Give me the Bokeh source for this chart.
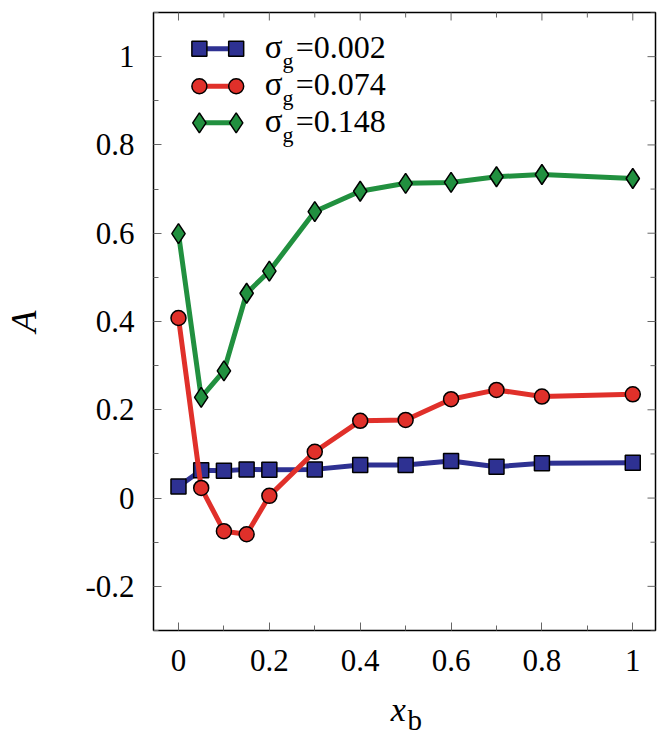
import numpy as np
from bokeh.plotting import figure
from bokeh.layouts import column
from bokeh.models import Range1d, Label, FixedTicker, ColumnDataSource
from bokeh.core.properties import value
from bokeh.embed import file_html
from bokeh.resources import INLINE

x_b = [0.0, 0.05, 0.1, 0.15, 0.2, 0.3, 0.4, 0.5, 0.6, 0.7, 0.8, 1.0]
A_002 = [0.026, 0.063, 0.062, 0.065, 0.064, 0.065, 0.075, 0.075, 0.084, 0.071, 0.079, 0.080]
A_074 = [0.408, 0.023, -0.075, -0.082, 0.005, 0.105, 0.175, 0.177, 0.224, 0.245, 0.230, 0.235]
A_148 = [0.599, 0.228, 0.288, 0.464, 0.514, 0.649, 0.695, 0.713, 0.715, 0.728, 0.733, 0.724]
sigma_labels = ["0.002", "0.074", "0.148"]
x_ticks = [0, 0.2, 0.4, 0.6, 0.8, 1.0]
x_minor = [0.1, 0.3, 0.5, 0.7, 0.9]
y_ticks = [-0.2, 0, 0.2, 0.4, 0.6, 0.8, 1.0]
y_minor = [-0.3, -0.1, 0.1, 0.3, 0.5, 0.7, 0.9, 1.1]

X0, X1, Y0, Y1 = -0.055, 1.05, -0.3, 1.1

colors = ["#2E3192", "#E0302A", "#21903F"]
markers = ["square", "circle", "diamond"]
msizes = [15, 15, 20]
series = [A_002, A_074, A_148]

FONT = "Liberation Serif"
TICK = "#666666"

p = figure(width=669, height=690, output_backend="svg", toolbar_location=None,
           x_range=Range1d(X0, X1), y_range=Range1d(Y0, Y1),
           min_border_left=153, min_border_right=14, min_border_top=12, min_border_bottom=60)
p.xgrid.visible = False
p.ygrid.visible = False
p.outline_line_color = "black"
p.outline_line_width = 1.5
p.outline_line_alpha = 1.0

for ax in (p.xaxis[0], p.yaxis[0]):
    ax.axis_line_color = None
    ax.major_tick_in = 8
    ax.major_tick_out = 0
    ax.minor_tick_in = 5
    ax.minor_tick_out = 0
    ax.major_tick_line_color = TICK
    ax.minor_tick_line_color = TICK
    ax.major_label_text_font = FONT
    ax.major_label_text_font_size = "31px"
    ax.major_label_text_color = "black"

p.xaxis.ticker = FixedTicker(ticks=x_ticks, minor_ticks=x_minor)
p.yaxis.ticker = FixedTicker(ticks=y_ticks, minor_ticks=y_minor)
p.xaxis.major_label_overrides = {0: "0", 1: "1"}
p.yaxis.major_label_overrides = {0: "0", 1: "1", -0.2: "-0.2"}
p.xaxis.major_label_standoff = 19
p.yaxis.major_label_standoff = 19

p.yaxis.axis_label = "A"
p.yaxis.axis_label_text_font = FONT
p.yaxis.axis_label_text_font_size = "36px"
p.yaxis.axis_label_text_font_style = "italic"
p.yaxis.axis_label_text_color = "black"
p.yaxis.axis_label_standoff = 38

# mirrored ticks on top and right (dash markers centred on the frame edge, clipped by frame)
p.scatter(x_ticks, [Y1] * len(x_ticks), marker="dash", angle=np.pi / 2, size=16, line_color=TICK, line_width=1)
p.scatter(x_minor, [Y1] * len(x_minor), marker="dash", angle=np.pi / 2, size=10, line_color=TICK, line_width=1)
p.scatter([X1] * len(y_ticks), y_ticks, marker="dash", size=16, line_color=TICK, line_width=1)
p.scatter([X1] * len(y_minor), y_minor, marker="dash", size=10, line_color=TICK, line_width=1)

for ys, c, m, s in zip(series, colors, markers, msizes):
    src = ColumnDataSource(dict(x=x_b, y=ys))
    p.line("x", "y", source=src, line_color=c, line_width=5)
    p.scatter("x", "y", source=src, marker=m, size=s, fill_color=c, line_color="black", line_width=1.5)

# legend (manual, for subscripts)
leg_y = [1.022, 0.937, 0.854]
lx0, lx1 = 0.046, 0.127
for i, (lab, c, m, s) in enumerate(zip(sigma_labels, colors, markers, msizes)):
    y = leg_y[i]
    p.line([lx0, lx1], [y - 0.004, y - 0.004], line_color=c, line_width=5)
    p.scatter([lx0, lx1], [y - 0.004, y - 0.004], marker=m, size=s, fill_color=c, line_color="black", line_width=1.5)
    p.add_layout(Label(x=0.19, y=y, text="σ", text_font=FONT, text_font_size="33px", text_color="black",
                       text_baseline="middle", text_align="left"))
    p.add_layout(Label(x=0.229, y=y - 0.03, text="g", text_font=FONT, text_font_size="22px", text_color="black",
                       text_baseline="middle", text_align="left"))
    p.add_layout(Label(x=0.258, y=y, text="=" + lab, text_font=FONT, text_font_size="32px", text_color="black",
                       text_baseline="middle", text_align="left"))

# x-axis label with subscript, in a strip below the main plot (frame aligned with the main frame)
p2 = figure(width=669, height=52, output_backend="svg", toolbar_location=None, title=None,
            x_range=p.x_range, y_range=Range1d(0, 52),
            x_axis_location=None, y_axis_location=None,
            min_border_left=153, min_border_right=14, min_border_top=0, min_border_bottom=0)
p2.grid.visible = False
p2.outline_line_color = None
p2.text(x=[0.484], y=[33], text=["x"], text_font=value(FONT), text_font_size="34px",
        text_font_style="italic", text_color="black", text_align="center", text_baseline="alphabetic")
p2.text(x=[0.504], y=[23], text=["b"], text_font=value(FONT), text_font_size="29px",
        text_color="black", text_align="left", text_baseline="alphabetic")

layout = column(p, p2, spacing=0)
open("out.html", "w").write(file_html(layout, INLINE))
